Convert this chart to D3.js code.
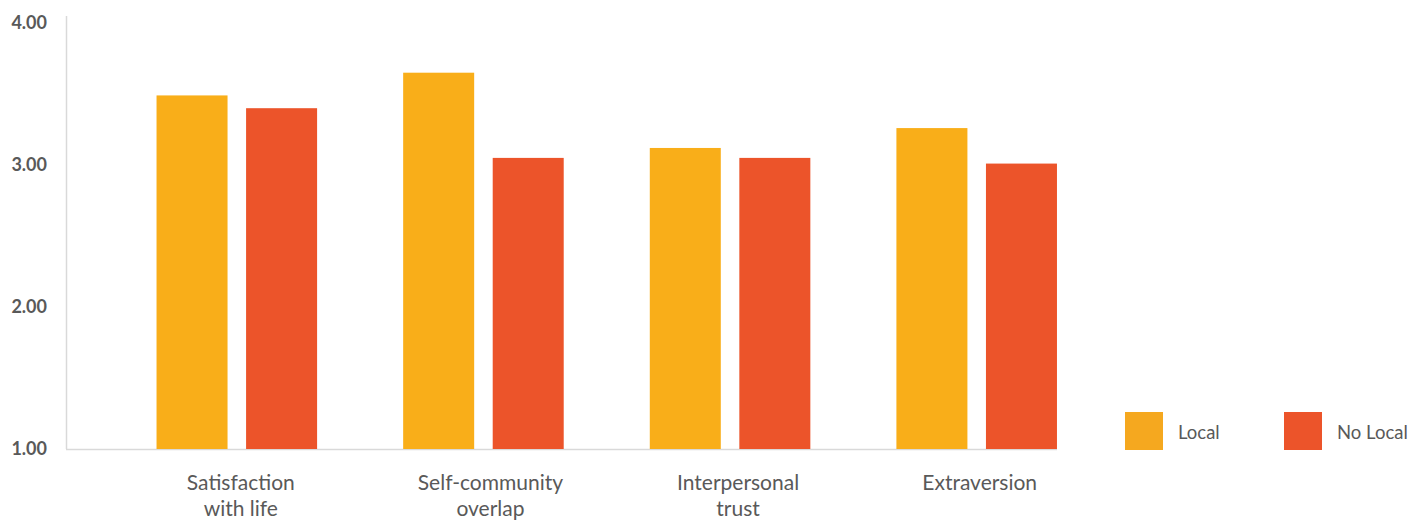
<!DOCTYPE html>
<html>
<head>
<meta charset="utf-8">
<script src="https://cdn.jsdelivr.net/npm/d3@7"></script>
<style>
  html, body { margin: 0; padding: 0; background: #fff; }
  svg { display: block; font-family: Lato, "Open Sans", sans-serif; }
</style>
</head>
<body>
<svg id="chart" width="1412" height="520"></svg>
<script>
const categories = [["Satisfaction", "with life"], ["Self-community", "overlap"], ["Interpersonal", "trust"], ["Extraversion"]];
const seriesNames = ["Local", "No Local"];
const localValues = [3.49, 3.65, 3.12, 3.26];
const noLocalValues = [3.40, 3.05, 3.05, 3.01];
const yTicks = [1, 2, 3, 4];
const colors = ["#F9AE19", "#EC542A"];

const svg = d3.select("#chart");
const catKeys = categories.map(c => c.join(" "));

const y = d3.scaleLinear().domain([1, 4]).range([449, 23]);
const x0 = d3.scaleBand().domain(catKeys).range([113.5, 1100]).paddingInner(0.349).paddingOuter(0.1745);
const x1 = d3.scaleBand().domain(seriesNames).range([0, x0.bandwidth()]).paddingInner(0.207).paddingOuter(0);
const color = d3.scaleOrdinal().domain(seriesNames).range(colors);
const labelShift = [4, 7, 8, 3];

// axes lines
svg.append("line").attr("x1", 66.5).attr("x2", 66.5).attr("y1", 16).attr("y2", y(1))
  .attr("stroke", "#d9d9d9").attr("stroke-width", 1.5);
svg.append("line").attr("x1", 66).attr("x2", 1057).attr("y1", y(1) + 0.5).attr("y2", y(1) + 0.5)
  .attr("stroke", "#d9d9d9").attr("stroke-width", 1.5);

// y tick labels
const yAxis = d3.axisLeft(y).tickValues(yTicks).tickFormat(d3.format(".2f")).tickSize(0).tickPadding(0);
const gy = svg.append("g").attr("transform", "translate(47,0)").call(yAxis);
gy.select(".domain").remove();
gy.selectAll("text").attr("fill", "#595959").attr("font-size", 18).attr("font-weight", "bold")
  .attr("font-family", "Lato, sans-serif");

// bars
const data = catKeys.map((k, i) => ({ key: k, values: [localValues[i], noLocalValues[i]] }));
const groups = svg.append("g").selectAll("g").data(data).join("g")
  .attr("transform", d => `translate(${x0(d.key)},0)`);
groups.selectAll("rect").data(d => seriesNames.map((s, j) => ({ s, v: d.values[j] }))).join("rect")
  .attr("x", d => x1(d.s))
  .attr("width", x1.bandwidth())
  .attr("y", d => y(d.v))
  .attr("height", d => y(1) - y(d.v))
  .attr("fill", d => color(d.s));

// x labels
const xl = svg.append("g").selectAll("text").data(categories).join("text")
  .attr("x", (d, i) => x0(catKeys[i]) + x0.bandwidth() / 2 + labelShift[i])
  .attr("y", 490)
  .attr("text-anchor", "middle")
  .attr("fill", "#595959")
  .attr("font-size", 21);
xl.selectAll("tspan").data(d => d).join("tspan")
  .attr("x", function () { return d3.select(this.parentNode).attr("x"); })
  .attr("dy", (d, i) => i === 0 ? 0 : 26)
  .text(d => d);

// legend
const legendX = [1125, 1284];
const lg = svg.append("g").selectAll("g").data(seriesNames).join("g")
  .attr("transform", (d, i) => `translate(${legendX[i]},412)`);
lg.append("rect").attr("width", 38).attr("height", 38).attr("fill", d => d === "Local" ? "#F5A81F" : "#EC542A");
lg.append("text").attr("x", 53).attr("y", 27).attr("fill", "#595959").attr("font-size", 18.5).text(d => d);
</script>
</body>
</html>
